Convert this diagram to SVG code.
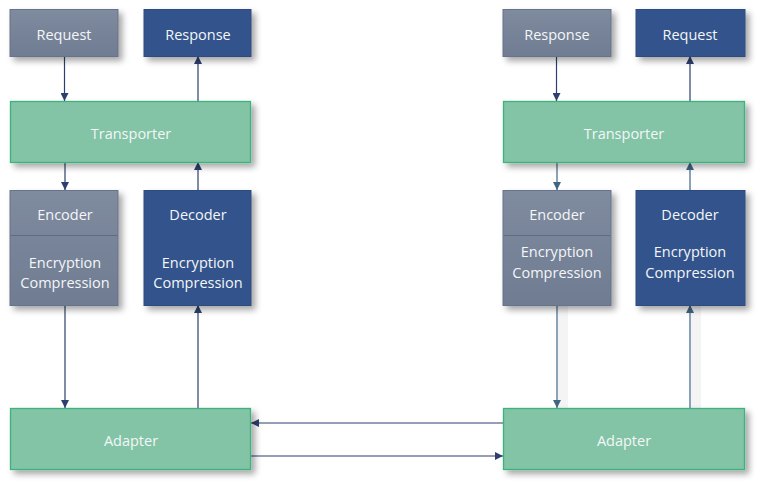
<svg xmlns="http://www.w3.org/2000/svg" width="763" height="488" viewBox="0 0 763 488">
<defs>
<linearGradient id="gGray" x1="0" y1="0" x2="0" y2="1">
<stop offset="0" stop-color="#7f8b9f"/>
<stop offset="1" stop-color="#6f7c91"/>
</linearGradient>
<filter id="sh" x="-10%" y="-10%" width="130%" height="140%">
<feDropShadow dx="4" dy="4" stdDeviation="3" flood-color="#000" flood-opacity="0.35"/>
</filter>
<marker id="ah" viewBox="0 0 10 10" refX="10" refY="5" markerWidth="8" markerHeight="8" markerUnits="userSpaceOnUse" orient="auto">
<path d="M0,0 L10,5 L0,10 z" fill="#2c3f6e"/>
</marker>
<marker id="ah2" viewBox="0 0 10 10" refX="10" refY="5" markerWidth="8" markerHeight="8" markerUnits="userSpaceOnUse" orient="auto">
<path d="M0,0 L10,5 L0,10 z" fill="#3f6585"/>
</marker>
</defs>
<style>
.gray{fill:url(#gGray);stroke:#66738a;stroke-width:1;filter:url(#sh)}
.blue{fill:#33538b;stroke:#2e4c80;stroke-width:1;filter:url(#sh)}
.green{fill:#82c4a5;stroke:#3cb27f;stroke-width:1.3;filter:url(#sh)}
text{font-family:"Open Sans","Noto Sans","DejaVu Sans",sans-serif;font-size:14.5px;fill:#f4f6f8;text-anchor:middle;dominant-baseline:central}
.c{stroke:#2c3f6e;stroke-width:1.2;fill:none;marker-end:url(#ah)}
.c2{stroke:#3f6585;stroke-width:1.2;fill:none;marker-end:url(#ah2)}
.div{stroke:#5f6b80;stroke-width:1}
.band{fill:#000;opacity:0.045}
</style>
<g id="connectors">
<rect class="band" x="558" y="306" width="10" height="102"/>
<rect class="band" x="691" y="306" width="10" height="102"/>
<line class="c" x1="64.5" y1="57" x2="64.5" y2="101"/>
<line class="c" x1="198" y1="101" x2="198" y2="56"/>
<line class="c" x1="65" y1="163" x2="65" y2="190"/>
<line class="c" x1="198" y1="190" x2="198" y2="162"/>
<line class="c" x1="65" y1="306" x2="65" y2="408"/>
<line class="c" x1="198" y1="408" x2="198" y2="305"/>
<line class="c" x1="503" y1="423" x2="251" y2="423"/>
<line class="c" x1="251" y1="456" x2="503" y2="456"/>
<line class="c" x1="556.5" y1="57" x2="556.5" y2="101"/>
<line class="c" x1="690" y1="101" x2="690" y2="56"/>
<line class="c2" x1="557" y1="163" x2="557" y2="190"/>
<line class="c2" x1="690" y1="190" x2="690" y2="162"/>
<line class="c2" x1="557" y1="306" x2="557" y2="408"/>
<line class="c2" x1="690" y1="408" x2="690" y2="305"/>
</g>
<g id="left-request"><rect class="gray" x="10" y="9.5" width="108" height="47"/><text x="64" y="34">Request</text></g>
<g id="left-response"><rect class="blue" x="144" y="9.5" width="107" height="47"/><text x="198" y="34">Response</text></g>
<g id="left-transporter"><rect class="green" x="10.5" y="101.5" width="240" height="61"/><text x="131" y="133">Transporter</text></g>
<g id="left-encoder"><rect class="gray" x="10" y="190.5" width="108" height="115"/><line class="div" x1="10.5" y1="235.5" x2="117.5" y2="235.5"/><text x="65" y="214">Encoder</text><text x="65" y="262">Encryption</text><text x="65" y="282">Compression</text></g>
<g id="left-decoder"><rect class="blue" x="144" y="190.5" width="107" height="115"/><text x="198" y="214">Decoder</text><text x="198" y="262">Encryption</text><text x="198" y="282">Compression</text></g>
<g id="left-adapter"><rect class="green" x="10.5" y="408.5" width="240" height="61"/><text x="131" y="440">Adapter</text></g>
<g id="right-response"><rect class="gray" x="503" y="9.5" width="108" height="47"/><text x="557" y="34">Response</text></g>
<g id="right-request"><rect class="blue" x="636" y="9.5" width="109" height="47"/><text x="690" y="34">Request</text></g>
<g id="right-transporter"><rect class="green" x="503.5" y="101.5" width="241" height="61"/><text x="624" y="133">Transporter</text></g>
<g id="right-encoder"><rect class="gray" x="503" y="190.5" width="108" height="115"/><line class="div" x1="503.5" y1="235.5" x2="610.5" y2="235.5"/><text x="557" y="214">Encoder</text><text x="557" y="251">Encryption</text><text x="557" y="272">Compression</text></g>
<g id="right-decoder"><rect class="blue" x="636" y="190.5" width="109" height="115"/><text x="690" y="214">Decoder</text><text x="690" y="251">Encryption</text><text x="690" y="272">Compression</text></g>
<g id="right-adapter"><rect class="green" x="503.5" y="408.5" width="241" height="61"/><text x="624" y="440">Adapter</text></g>
</svg>
